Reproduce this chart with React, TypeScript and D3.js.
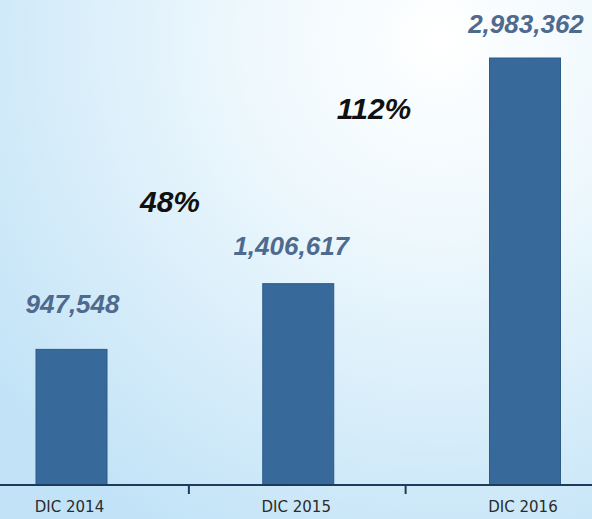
import { useEffect, useRef } from "react";
import * as d3 from "d3";

// values
const categories = ["DIC 2014", "DIC 2015", "DIC 2016"];
const values = [947548, 1406617, 2983362];
const growthLabels = ["48%", "112%"];

const W = 592;
const H = 519;

export default function App() {
  const ref = useRef<SVGSVGElement | null>(null);

  useEffect(() => {
    document.body.style.margin = "0";
    const svg = d3.select(ref.current);
    svg.selectAll("*").remove();

    const defs = svg.append("defs");
    const grad = defs
      .append("radialGradient")
      .attr("id", "bg")
      .attr("gradientUnits", "userSpaceOnUse")
      .attr("cx", 440)
      .attr("cy", 40)
      .attr("r", 560);
    grad.append("stop").attr("offset", "0%").attr("stop-color", "#ffffff");
    grad.append("stop").attr("offset", "35%").attr("stop-color", "#eef8fd");
    grad.append("stop").attr("offset", "100%").attr("stop-color", "#c2e3f7");

    svg.append("rect").attr("width", W).attr("height", H).attr("fill", "url(#bg)");

    const baseY = 485;
    const x = d3.scalePoint<string>().domain(categories).range([71.5, 525]);
    const y = d3.scaleLinear().domain([0, d3.max(values)!]).range([baseY, 58]);
    const barW = 71;

    svg
      .selectAll(".bar")
      .data(values)
      .enter()
      .append("rect")
      .attr("class", "bar")
      .attr("x", (_, i) => x(categories[i])! - barW / 2)
      .attr("y", (d) => y(d))
      .attr("width", barW)
      .attr("height", (d) => baseY - y(d))
      .attr("fill", "#376a9b")
      .attr("stroke", "#2d5b87")
      .attr("stroke-width", 1);

    // axis line and ticks between categories
    svg
      .append("line")
      .attr("x1", 0)
      .attr("x2", W)
      .attr("y1", baseY)
      .attr("y2", baseY)
      .attr("stroke", "#1f3b5c")
      .attr("stroke-width", 2);

    const tickShift = [4, -6];
    const mids = categories
      .slice(1)
      .map((c, i) => (x(categories[i])! + x(c)!) / 2 + tickShift[i]);
    svg
      .selectAll(".tick")
      .data(mids)
      .enter()
      .append("line")
      .attr("x1", (d) => d)
      .attr("x2", (d) => d)
      .attr("y1", baseY)
      .attr("y2", baseY + 9)
      .attr("stroke", "#1f3b5c")
      .attr("stroke-width", 2);

    svg
      .selectAll(".cat")
      .data(categories)
      .enter()
      .append("text")
      .attr("x", (d) => x(d)! - 2)
      .attr("y", 512)
      .attr("text-anchor", "middle")
      .attr("font-family", "DejaVu Sans")
      .attr("font-size", 15)
      .attr("fill", "#2b2b2b")
      .text((d) => d);

    const labelGap = [36, 29, 25];
    const labelShift = [1, -7, 1];
    svg
      .selectAll(".val")
      .data(values)
      .enter()
      .append("text")
      .attr("x", (_, i) => x(categories[i])! + labelShift[i])
      .attr("y", (d, i) => y(d) - labelGap[i])
      .attr("text-anchor", "middle")
      .attr("font-family", "Liberation Sans")
      .attr("font-weight", "bold")
      .attr("font-style", "italic")
      .attr("font-size", 26)
      .attr("fill", "#4e6a8e")
      .text((d) => d3.format(",")(d));

    // growth labels, placed between neighbouring bars
    const growthPos = [
      { x: 170, y: 212 },
      { x: 374, y: 119 },
    ];
    svg
      .selectAll(".pct")
      .data(growthLabels)
      .enter()
      .append("text")
      .attr("x", (_, i) => growthPos[i].x)
      .attr("y", (_, i) => growthPos[i].y)
      .attr("text-anchor", "middle")
      .attr("font-family", "Liberation Sans")
      .attr("font-weight", "bold")
      .attr("font-style", "italic")
      .attr("font-size", 30)
      .attr("fill", "#111")
      .text((d) => d);
  }, []);

  return <svg ref={ref} width={W} height={H} style={{ display: "block" }} />;
}
